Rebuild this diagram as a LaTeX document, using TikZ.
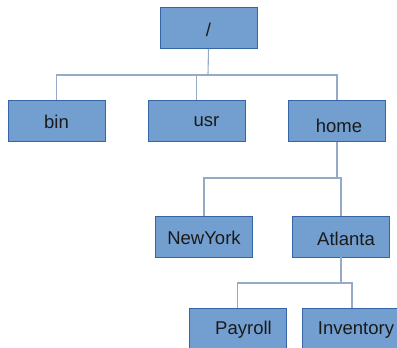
\documentclass[tikz,border=0pt]{standalone}
\usepackage{fontspec}
\setmainfont{Liberation Sans}
\usepackage{tikz}
\usetikzlibrary{positioning}
\definecolor{boxFill}{HTML}{729FCF}
\definecolor{boxLine}{HTML}{3465A4}
\definecolor{lineColor}{RGB}{150,170,200}
\definecolor{textColor}{HTML}{1A1A1A}

\begin{document}
\begin{tikzpicture}[x=1pt,y=-1pt]

            \tikzstyle{dirBox} = [draw=boxLine, fill=boxFill, line width=0.8pt, minimum width=97pt, minimum height=41pt, inner sep=0pt];
            \tikzstyle{dirName} = [text=textColor, font=\fontsize{18.5}{22}\selectfont, inner sep=0pt];
            \tikzstyle{conn} = [draw=lineColor, line width=1.1pt];

            \useasboundingbox (0,0) rectangle (397,348);
            \clip (0,0) rectangle (397,348);

            \node[dirBox, label={[dirName,yshift=-2pt]center:/}] (root) at (208.5,28) {};
            \node[dirBox, label={[dirName,yshift=-1pt]center:bin}] (bin) at (56.5,121) {};
            \node[dirBox, label={[dirName,xshift=10pt,yshift=-1pt]center:usr}] (usr) at (196.5,121) {};
            \node[dirBox, label={[dirName,xshift=2pt,yshift=-5pt]center:home}] (home) at (337,121) {};
            \node[dirBox, label={[dirName,yshift=-1pt]center:NewYork}] (newyork) at (204,236.5) {};
            \node[dirBox, label={[dirName,xshift=5pt,yshift=-2pt]center:Atlanta}] (atlanta) at (341,236.5) {};
            \node[dirBox, label={[dirName,xshift=6pt,yshift=-1pt]center:Payroll}] (payroll) at (237.5,329) {};
            \node[dirBox, label={[dirName,xshift=5pt,yshift=-1pt]center:Inventory}] (inventory) at (351,329) {};

            \coordinate (barA) at (208,75);
            \coordinate (barB) at (337,178);
            \coordinate (barC) at (341,283);

            \draw[conn] (root.south) -- (barA);
            \draw[conn] (bin.north) |- (barA) -| (home.north);
            \draw[conn] (usr.north) -- (usr.north |- barA);
            \draw[conn] (home.south) -- (barB);
            \draw[conn] (newyork.north) |- (barB) -| (atlanta.north);
            \draw[conn] (atlanta.south) -- (barC);
            \draw[conn] (payroll.north) |- (barC) -| ([xshift=1pt]inventory.north);
          \end{tikzpicture}
\end{document}
